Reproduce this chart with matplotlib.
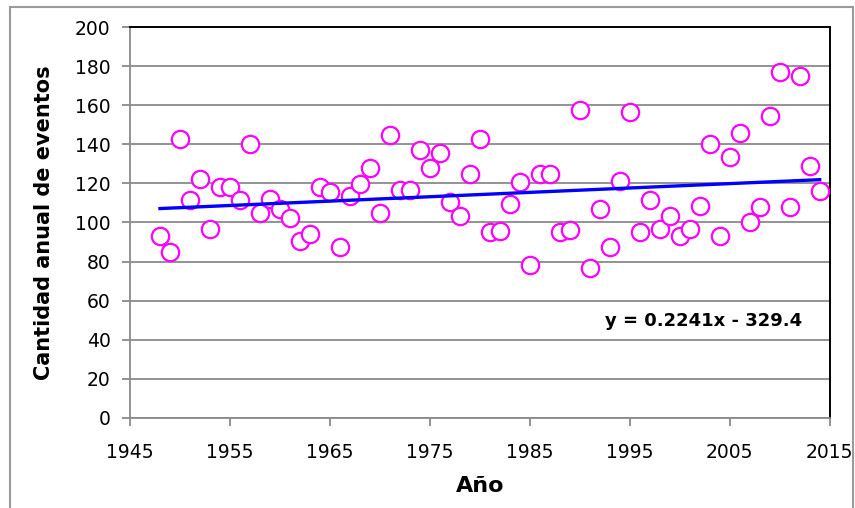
# Scatter of annual event counts with linear trend line

import numpy as np
import matplotlib.pyplot as plt
from matplotlib.patches import Rectangle

# Years of record
years = np.arange(1948, 2015)

# Annual number of events
counts = [93.0, 84.8, 142.7, 111.4, 122.4, 96.7, 118.0, 118.0, 111.4, 140.0,
          104.9, 111.8, 106.7, 102.2, 90.3, 94.0, 118.0, 115.5, 87.5, 113.5,
          119.6, 128.0, 104.9, 144.6, 116.9, 116.9, 137.2, 128.0, 135.4, 110.6,
          103.1, 125.1, 142.9, 94.9, 95.7, 109.7, 120.7, 78.3, 125.1, 125.1,
          94.9, 96.4, 157.6, 76.5, 106.8, 87.5, 121.5, 156.7, 94.9, 111.4,
          96.6, 103.1, 93.0, 96.6, 108.7, 140.0, 93.0, 133.6, 145.6, 100.3,
          107.7, 154.7, 176.9, 107.7, 175.0, 129.0, 116.0]

# Trend line coefficients (as shown on the chart)
slope = 0.2241
intercept = -329.4
equation = "y = 0.2241x - 329.4"

x_ticks = [1945, 1955, 1965, 1975, 1985, 1995, 2005, 2015]
y_ticks = list(range(0, 201, 20))

W, H = 855, 508
fig = plt.figure(figsize=(W / 100, H / 100), dpi=100)
fig.patch.set_facecolor("white")

# Outer chart border (bottom edge runs off the image)
fig.patches.append(Rectangle((10 / W, -0.05), 843 / W, 1.05 - 7 / H,
                             transform=fig.transFigure, fill=False,
                             edgecolor="#9a9a9a", linewidth=1.5))

ax = fig.add_axes([130 / W, 1 - 417.7 / H, 699.7 / W, 390.4 / H])

ax.plot(years, counts, linestyle="none", marker="o", markersize=12.5,
        markerfacecolor="white", markeredgecolor="#ff00ff",
        markeredgewidth=1.6, zorder=3)

trend_x = np.array([years[0], years[-1]])
ax.plot(trend_x, slope * trend_x + intercept, color="#0000ff",
        linewidth=2.4, zorder=4)

ax.set_xlim(1945, 2015)
ax.set_ylim(0, 200)
ax.set_xticks(x_ticks)
ax.set_yticks(y_ticks)
ax.yaxis.grid(True, color="#8a8a8a", linewidth=1.3)
ax.set_axisbelow(True)

for side in ["left", "bottom"]:
    ax.spines[side].set_color("#8a8a8a")
    ax.spines[side].set_linewidth(1.3)
for side in ["top", "right"]:
    ax.spines[side].set_color("black")
    ax.spines[side].set_linewidth(1.4)

ax.tick_params(axis="both", direction="out", length=6, width=1.3,
               color="#8a8a8a", labelsize=13.5)
ax.tick_params(axis="y", pad=8)
ax.tick_params(axis="x", pad=12)

ax.set_xlabel("Año", fontsize=16, fontweight="bold", labelpad=10)
ax.set_ylabel("Cantidad anual de eventos", fontsize=15, fontweight="bold",
              labelpad=15)

ax.text(0.961, 0.247, equation, transform=ax.transAxes, ha="right",
        va="center", fontsize=13, fontweight="bold")

fig.savefig("out.png", dpi=100)
